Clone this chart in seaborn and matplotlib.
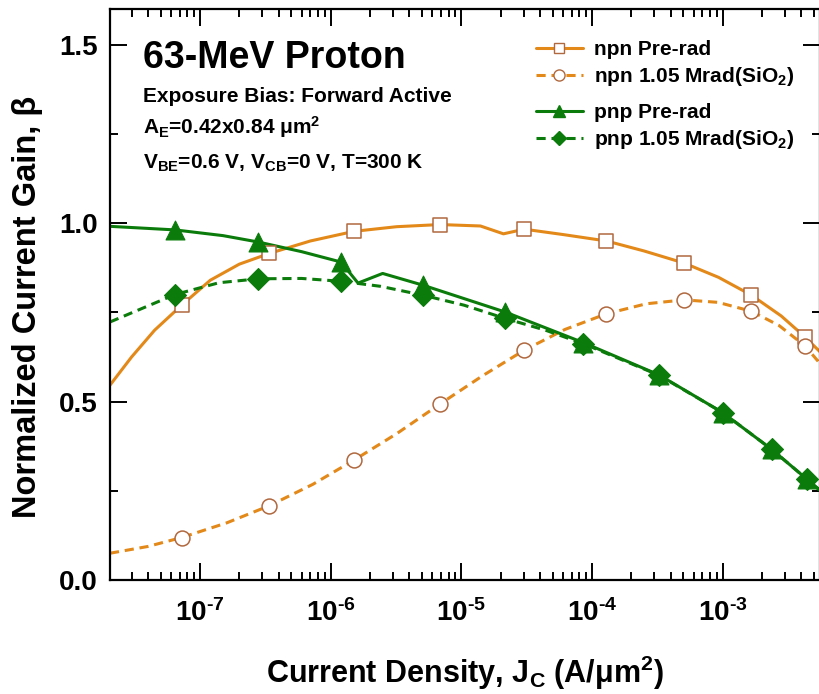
import numpy as np
import pandas as pd
import matplotlib
matplotlib.use("Agg")
import matplotlib.pyplot as plt
from matplotlib.lines import Line2D
from matplotlib.ticker import LogLocator, FixedLocator, FuncFormatter, NullFormatter
import seaborn as sns

# ---- measured curves: current density J_C (A/um^2) vs normalized gain ----
npn_pre_curve_x = [2.05e-8, 3.0e-8, 4.5e-8, 7.24e-8, 1.2e-7, 2.0e-7, 3.39e-7, 7.0e-7,
                   1.51e-6, 3.2e-6, 6.86e-6, 1.4e-5, 2.1e-5, 3.03e-5, 6.0e-5, 1.29e-4,
                   2.5e-4, 5.07e-4, 9.3e-4, 1.66e-3, 2.8e-3, 4.26e-3, 5.6e-3]
npn_pre_curve_y = [0.546, 0.625, 0.700, 0.770, 0.840, 0.885, 0.915, 0.950,
                   0.977, 0.990, 0.996, 0.992, 0.970, 0.983, 0.968, 0.950,
                   0.922, 0.888, 0.848, 0.798, 0.740, 0.681, 0.638]

npn_rad_curve_x = [2.05e-8, 4.0e-8, 7.24e-8, 1.6e-7, 3.39e-7, 7.3e-7, 1.51e-6, 3.2e-6,
                   6.86e-6, 1.45e-5, 3.03e-5, 6.2e-5, 1.29e-4, 2.6e-4, 5.07e-4, 9.2e-4,
                   1.66e-3, 2.7e-3, 4.26e-3, 5.6e-3]
npn_rad_curve_y = [0.075, 0.094, 0.119, 0.160, 0.208, 0.268, 0.336, 0.410,
                   0.493, 0.572, 0.644, 0.702, 0.746, 0.774, 0.785, 0.778,
                   0.753, 0.713, 0.656, 0.605]

pnp_pre_curve_x = [2.05e-8, 6.45e-8, 1.5e-7, 2.8e-7, 6.0e-7, 1.2e-6, 1.62e-6, 2.5e-6,
                   5.1e-6, 2.16e-5, 8.6e-5, 3.24e-4, 1.0e-3, 2.37e-3, 4.39e-3, 5.6e-3]
pnp_pre_curve_y = [0.991, 0.981, 0.965, 0.947, 0.920, 0.891, 0.832, 0.859,
                   0.826, 0.751, 0.665, 0.575, 0.469, 0.366, 0.283, 0.250]

pnp_rad_curve_x = [2.05e-8, 6.45e-8, 1.4e-7, 2.8e-7, 6.0e-7, 1.2e-6, 2.4e-6, 5.1e-6,
                   1.05e-5, 2.16e-5, 4.4e-5, 8.6e-5, 3.24e-4, 1.0e-3, 2.37e-3, 4.39e-3, 5.6e-3]
pnp_rad_curve_y = [0.723, 0.800, 0.833, 0.844, 0.845, 0.837, 0.823, 0.798,
                   0.770, 0.733, 0.700, 0.662, 0.574, 0.469, 0.366, 0.283, 0.250]

# ---- symbols marked on each curve ----
npn_mark_x = [7.24e-8, 3.39e-7, 1.51e-6, 6.86e-6, 3.03e-5, 1.29e-4, 5.07e-4, 1.66e-3, 4.26e-3]
npn_pre_mark_y = [0.770, 0.915, 0.977, 0.996, 0.983, 0.950, 0.888, 0.798, 0.681]
npn_rad_mark_y = [0.119, 0.208, 0.336, 0.493, 0.644, 0.746, 0.785, 0.753, 0.656]

pnp_mark_x = [6.45e-8, 2.8e-7, 1.2e-6, 5.1e-6, 2.16e-5, 8.6e-5, 3.24e-4, 1.0e-3, 2.37e-3, 4.39e-3]
pnp_pre_mark_y = [0.981, 0.947, 0.891, 0.826, 0.751, 0.665, 0.575, 0.469, 0.366, 0.283]
pnp_rad_mark_y = [0.800, 0.844, 0.837, 0.798, 0.733, 0.662, 0.574, 0.469, 0.366, 0.283]

npn_labels = ["npn Pre-rad", r"npn 1.05 Mrad(SiO$_\mathregular{2}$)"]
pnp_labels = ["pnp Pre-rad", r"pnp 1.05 Mrad(SiO$_\mathregular{2}$)"]

ORANGE = "#E3891A"
ORANGE_EDGE = "#B0683F"
GREEN = "#0B7C0B"
DASH = (0, (3.0, 1.9))

sns.set_style("ticks")
plt.rcParams["font.family"] = ["Liberation Sans", "DejaVu Sans"]
plt.rcParams["font.weight"] = "bold"
plt.rcParams["text.color"] = "black"
plt.rcParams["axes.labelcolor"] = "black"
plt.rcParams["xtick.color"] = "black"
plt.rcParams["ytick.color"] = "black"
plt.rcParams["mathtext.fontset"] = "custom"
plt.rcParams["mathtext.rm"] = "Liberation Sans:bold"
plt.rcParams["mathtext.bf"] = "Liberation Sans:bold"
plt.rcParams["mathtext.it"] = "Liberation Sans:bold"
plt.rcParams["mathtext.default"] = "regular"

fig = plt.figure(figsize=(8.2, 6.94), dpi=100)
ax = fig.add_axes([110 / 820, 1 - 580 / 694, 710 / 820, 571 / 694])

curves = [
    (npn_pre_curve_x, npn_pre_curve_y, ORANGE, "-"),
    (npn_rad_curve_x, npn_rad_curve_y, ORANGE, DASH),
    (pnp_pre_curve_x, pnp_pre_curve_y, GREEN, "-"),
    (pnp_rad_curve_x, pnp_rad_curve_y, GREEN, DASH),
]
for cx, cy, col, ls in curves:
    df = pd.DataFrame({"J": cx, "beta": cy})
    sns.lineplot(data=df, x="J", y="beta", sort=False, estimator=None, color=col,
                 linewidth=2.2, linestyle=ls, ax=ax, zorder=2)

marks = [
    (npn_mark_x, npn_pre_mark_y, "s", 100, "white", ORANGE_EDGE, 1.1),
    (npn_mark_x, npn_rad_mark_y, "o", 115, "white", ORANGE_EDGE, 1.1),
    (pnp_mark_x, pnp_pre_mark_y, "^", 185, GREEN, GREEN, 0.8),
    (pnp_mark_x, pnp_rad_mark_y, "D", 125, GREEN, GREEN, 0.8),
]
for i, (mx, my, mk, size, fc, ec, lw) in enumerate(marks):
    df = pd.DataFrame({"J": mx, "beta": my})
    sns.scatterplot(data=df, x="J", y="beta", marker=mk, s=size, color=fc,
                    edgecolor=ec, linewidth=lw, ax=ax, zorder=3 + i, legend=False)

ax.set_xscale("log")
ax.set_xlim(2.05e-8, 5.55e-3)
ax.set_ylim(0, 1.6)

ax.yaxis.set_major_locator(FixedLocator([0.0, 0.5, 1.0, 1.5]))
ax.yaxis.set_minor_locator(FixedLocator([0.25, 0.75, 1.25]))
ax.yaxis.set_major_formatter(FuncFormatter(lambda v, p: f"{v:.1f}"))
ax.xaxis.set_major_locator(LogLocator(base=10, numticks=20))
ax.xaxis.set_minor_locator(LogLocator(base=10, subs=np.arange(2, 10), numticks=20))
ax.xaxis.set_minor_formatter(NullFormatter())
ax.xaxis.set_major_formatter(FuncFormatter(
    lambda v, p: "10$^{\\mathregular{\u2010%d}}$" % abs(int(round(np.log10(v))))))

ax.tick_params(which="both", direction="in", top=True, right=True, width=1.4,
               colors="black")
ax.tick_params(which="major", length=12, labelsize=20)
ax.tick_params(axis="x", which="major", pad=14)
ax.tick_params(axis="y", which="major", pad=9)
ax.tick_params(which="minor", length=6)
for s in ax.spines.values():
    s.set_linewidth(1.6)
    s.set_color("black")

ax.set_xlabel(r"Current Density, J$_\mathregular{C}$ (A/μm$^\mathregular{2}$)",
              fontsize=22, fontweight="bold", labelpad=19)
ax.set_ylabel("Normalized Current Gain, β", fontsize=23.5, fontweight="bold")
ax.yaxis.set_label_coords(-0.095, 0.478)

ax.text(0.0465, 0.897, "63-MeV Proton", transform=ax.transAxes, fontsize=27,
        fontweight="bold", va="baseline", ha="left")
ax.text(0.0465, 0.838, "Exposure Bias: Forward Active", transform=ax.transAxes,
        fontsize=15, fontweight="bold", va="baseline", ha="left")
ax.text(0.0465, 0.782, r"A$_\mathregular{E}$=0.42x0.84 μm$^\mathregular{2}$",
        transform=ax.transAxes, fontsize=15, fontweight="bold", va="baseline", ha="left")
ax.text(0.0465, 0.721, r"V$_\mathregular{BE}$=0.6 V, V$_\mathregular{CB}$=0 V, T=300 K",
        transform=ax.transAxes, fontsize=15, fontweight="bold", va="baseline", ha="left")

npn_handles = [
    Line2D([], [], color=ORANGE, lw=2.2, ls="-", marker="s", ms=7,
           mfc="white", mec=ORANGE_EDGE, mew=1.0),
    Line2D([], [], color=ORANGE, lw=2.2, ls=DASH, marker="o", ms=8,
           mfc="white", mec=ORANGE_EDGE, mew=1.0),
]
pnp_handles = [
    Line2D([], [], color=GREEN, lw=2.2, ls="-", marker="^", ms=9,
           mfc=GREEN, mec=GREEN),
    Line2D([], [], color=GREEN, lw=2.2, ls=DASH, marker="D", ms=7,
           mfc=GREEN, mec=GREEN),
]
leg_kw = dict(loc="upper left", frameon=False, prop={"size": 15, "weight": "bold"},
              handlelength=2.25, handletextpad=0.55, labelspacing=0.3,
              borderaxespad=0.0)
leg1 = ax.legend(npn_handles, npn_labels, bbox_to_anchor=(0.588, 0.960), **leg_kw)
ax.add_artist(leg1)
ax.legend(pnp_handles, pnp_labels, bbox_to_anchor=(0.588, 0.850), **leg_kw)

fig.savefig("out.png", dpi=100, facecolor="white")
